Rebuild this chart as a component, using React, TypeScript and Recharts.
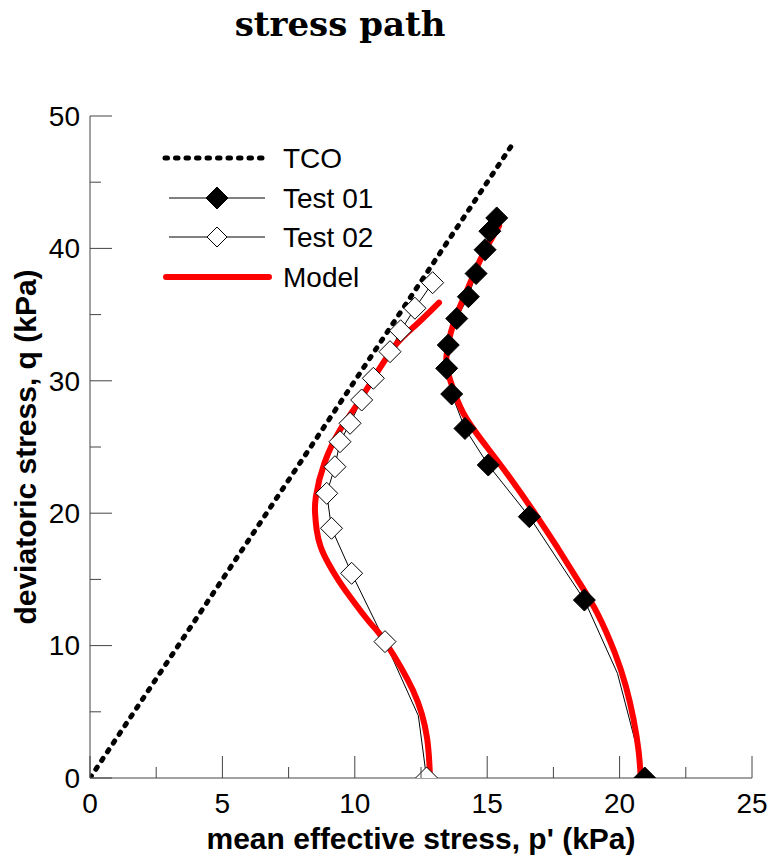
import React from 'react';
import { ComposedChart, Line, XAxis, YAxis, Label } from 'recharts';

// ---- data ----
const tcoP = [0, 15.9];
const tcoQ = [0, 47.7];

// Test 01 (filled diamonds); marker flag false = line vertex only
const test01P = [20.95, 19.92, 18.67, 16.59, 15.04, 14.16, 13.66, 13.47, 13.53, 13.85, 14.29, 14.58, 14.92, 15.1, 15.36];
const test01Q = [0, 7.9, 13.44, 19.74, 23.64, 26.4, 29.0, 30.94, 32.7, 34.7, 36.35, 38.1, 39.9, 41.3, 42.3];
const test01Marker = [true, false, true, true, true, true, true, true, true, true, true, true, true, true, true];

// Test 02 (open diamonds)
const test02P = [12.71, 12.4, 11.14, 9.88, 9.12, 8.94, 9.25, 9.44, 9.82, 10.26, 10.7, 11.33, 11.73, 12.27, 12.94];
const test02Q = [0, 4.7, 10.3, 15.46, 18.86, 21.5, 23.51, 25.4, 26.79, 28.55, 30.19, 32.2, 33.78, 35.48, 37.41];
const test02Marker = [true, false, true, true, true, true, true, true, true, true, true, true, true, true, true];

// Model curves
const modelRightP = [20.8, 20.72, 20.53, 20.24, 19.83, 19.16, 18.42, 17.63, 16.8, 15.92, 14.98, 14.1, 13.6, 13.46, 13.74, 14.25, 14.8, 15.45];
const modelRightQ = [0, 2.0, 4.4, 6.9, 9.4, 12.44, 14.95, 17.47, 19.99, 22.51, 25.02, 27.55, 30.06, 31.8, 34.4, 36.9, 39.4, 41.7];
const modelLeftP = [12.84, 12.73, 12.2, 11.14, 10.76, 10.39, 9.82, 9.38, 9.0, 8.71, 8.56, 8.5, 8.53, 8.85, 9.44, 9.95, 10.74, 11.58, 12.3, 13.18];
const modelLeftQ = [0, 3.0, 6.6, 10.3, 11.31, 12.18, 13.69, 14.95, 16.22, 17.47, 18.73, 19.99, 21.25, 23.77, 26.28, 27.8, 30.3, 32.8, 34.2, 35.9];

const xTicks = [0, 2.5, 5, 7.5, 10, 12.5, 15, 17.5, 20, 22.5, 25];
const yTicks = [0, 5, 10, 15, 20, 25, 30, 35, 40, 45, 50];

const legendLabels = ['TCO', 'Test 01', 'Test 02', 'Model'];

const toRows = (ps: number[], qs: number[], marks?: boolean[]) =>
  ps.map((p, i) => ({ p, q: qs[i], mk: marks ? marks[i] : false }));

const tcoData = toRows(tcoP, tcoQ);
const test01Data = toRows(test01P, test01Q, test01Marker);
const test02Data = toRows(test02P, test02Q, test02Marker);
const modelRightData = toRows(modelRightP, modelRightQ);
const modelLeftData = toRows(modelLeftP, modelLeftQ);

const FONT = '"Liberation Sans", Arial, Helvetica, sans-serif';
const AXIS_COLOR = '#444';
const R = 11;

const diamondPath = (cx: number, cy: number, r: number) =>
  `M${cx},${cy - r}L${cx + r},${cy}L${cx},${cy + r}L${cx - r},${cy}Z`;

const makeDot = (filled: boolean) => (props: any) => {
  const { cx, cy, payload, index } = props;
  if (!payload || !payload.mk || cx == null || cy == null) return <g key={`d${index}`} />;
  return (
    <path
      key={`d${index}`}
      d={diamondPath(cx, cy, R)}
      fill={filled ? '#000' : '#fff'}
      stroke="#000"
      strokeWidth={1}
    />
  );
};

const XTick = (props: any) => {
  const { x, y, payload } = props;
  const v = payload.value;
  const major = Math.abs(v % 5) < 1e-9;
  return (
    <g>
      <line x1={x} x2={x} y1={y} y2={y - (major ? 22 : 11)} stroke={AXIS_COLOR} strokeWidth={1} />
      {major && (
        <text x={x} y={y + 35} textAnchor="middle" fontSize={28} fontFamily={FONT} fill="#000">
          {v}
        </text>
      )}
    </g>
  );
};

const YTick = (props: any) => {
  const { x, y, payload } = props;
  const v = payload.value;
  const major = Math.abs(v % 10) < 1e-9;
  return (
    <g>
      <line x1={x} x2={x + (major ? 22 : 11)} y1={y} y2={y} stroke={AXIS_COLOR} strokeWidth={1} />
      {major && (
        <text x={x - 10} y={y} dy="0.35em" textAnchor="end" fontSize={28} fontFamily={FONT} fill="#000">
          {v}
        </text>
      )}
    </g>
  );
};

const Legend = () => {
  const rows = [158, 198, 237, 277];
  return (
    <svg
      width={769}
      height={856}
      style={{ position: 'absolute', left: 0, top: 0, pointerEvents: 'none' }}
    >
      <line x1={165} x2={266} y1={rows[0]} y2={rows[0]} stroke="#000" strokeWidth={5} strokeDasharray="2.5 8" strokeLinecap="round" />
      <line x1={169} x2={265} y1={rows[1]} y2={rows[1]} stroke="#000" strokeWidth={1} />
      <path d={diamondPath(217, rows[1], R)} fill="#000" stroke="#000" />
      <line x1={169} x2={265} y1={rows[2]} y2={rows[2]} stroke="#000" strokeWidth={1} />
      <path d={diamondPath(217, rows[2], 10)} fill="#fff" stroke="#000" />
      <line x1={166} x2={269} y1={rows[3]} y2={rows[3]} stroke="#ff0000" strokeWidth={6} strokeLinecap="round" />
      {legendLabels.map((t, i) => (
        <text key={t} x={283} y={rows[i]} dy="0.36em" fontSize={28} fontFamily={FONT} fill="#000">
          {t}
        </text>
      ))}
    </svg>
  );
};

export default function App() {
  return (
    <div style={{ position: 'absolute', left: 0, top: 0, width: 769, height: 856, background: '#fff' }}>
      <div
        style={{
          position: 'absolute',
          left: 140,
          top: 3,
          width: 400,
          textAlign: 'center',
          fontFamily: '"DejaVu Serif", serif',
          fontWeight: 'bold',
          fontSize: 34,
          lineHeight: '42px',
          color: '#000',
        }}
      >
        stress path
      </div>
      <ComposedChart
        width={769}
        height={856}
        margin={{ top: 116, right: 17, bottom: 77, left: 89 }}
        style={{ position: 'absolute', left: 0, top: 0 }}
      >
        <XAxis
          dataKey="p"
          type="number"
          domain={[0, 25]}
          ticks={xTicks}
          interval={0}
          height={1}
          tickSize={0}
          tickMargin={0}
          tickLine={false}
          axisLine={{ stroke: AXIS_COLOR, strokeWidth: 1 }}
          tick={<XTick />}
          allowDataOverflow
        >
          <Label
            content={(p: any) => {
              const vb = p.viewBox || { x: 90, y: 778, width: 662 };
              return (
                <text
                  x={vb.x + vb.width / 2}
                  y={vb.y + 71}
                  textAnchor="middle"
                  fontSize={30}
                  fontWeight="bold"
                  fontFamily={FONT}
                  fill="#000"
                >
                  mean effective stress, p' (kPa)
                </text>
              );
            }}
          />
        </XAxis>
        <YAxis
          dataKey="q"
          type="number"
          domain={[0, 50]}
          ticks={yTicks}
          interval={0}
          width={1}
          tickSize={0}
          tickMargin={0}
          tickLine={false}
          axisLine={{ stroke: AXIS_COLOR, strokeWidth: 1 }}
          tick={<YTick />}
          allowDataOverflow
        >
          <Label
            content={(p: any) => {
              const vb = p.viewBox || { x: 89, y: 116, width: 1, height: 662 };
              const cx = vb.x + (vb.width || 0) - 54;
              const cy = vb.y + vb.height / 2;
              return (
                <text
                  transform={`translate(${cx},${cy}) rotate(-90)`}
                  textAnchor="middle"
                  fontSize={30}
                  fontWeight="bold"
                  fontFamily={FONT}
                  fill="#000"
                >
                  deviatoric stress, q (kPa)
                </text>
              );
            }}
          />
        </YAxis>

        <Line
          data={tcoData}
          dataKey="q"
          type="linear"
          stroke="#000"
          strokeWidth={5}
          strokeDasharray="2.5 8"
          strokeLinecap="round"
          dot={false}
          activeDot={false}
          isAnimationActive={false}
        />
        <Line
          data={test01Data}
          dataKey="q"
          type="linear"
          stroke="#000"
          strokeWidth={1}
          dot={makeDot(true)}
          activeDot={false}
          isAnimationActive={false}
        />
        <Line
          data={test02Data}
          dataKey="q"
          type="linear"
          stroke="#000"
          strokeWidth={1}
          dot={makeDot(false)}
          activeDot={false}
          isAnimationActive={false}
        />
        <Line
          data={modelRightData}
          dataKey="q"
          type="natural"
          stroke="#ff0000"
          strokeWidth={6}
          strokeLinecap="round"
          dot={false}
          activeDot={false}
          isAnimationActive={false}
        />
        <Line
          data={modelLeftData}
          dataKey="q"
          type="natural"
          stroke="#ff0000"
          strokeWidth={6}
          strokeLinecap="round"
          dot={false}
          activeDot={false}
          isAnimationActive={false}
        />
      </ComposedChart>
      <Legend />
    </div>
  );
}
